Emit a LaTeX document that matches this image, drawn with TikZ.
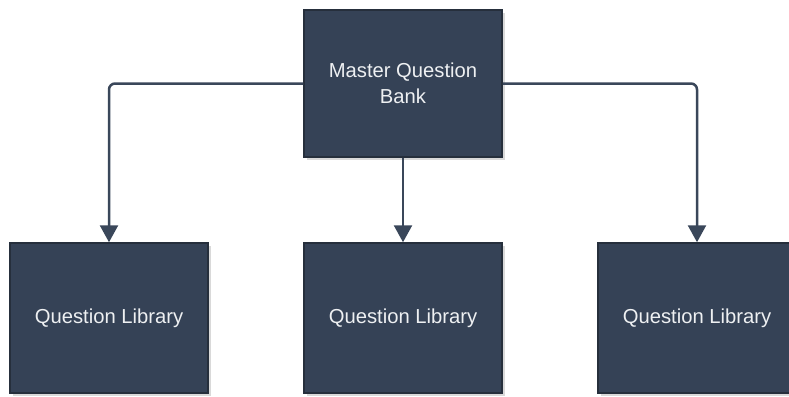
\documentclass[tikz,border=0pt]{standalone}
\usepackage{fontspec}
\setmainfont{Liberation Sans}
\usetikzlibrary{arrows.meta,shadows}
\definecolor{boxfill}{HTML}{354256}
\definecolor{boxline}{HTML}{262F3C}
\definecolor{linkcol}{HTML}{3A475A}
\definecolor{textcol}{HTML}{EEF0F2}
\begin{document}
\begin{tikzpicture}[x=1bp,y=-1bp,
  qbox/.style={draw=boxline,line width=1.5bp,fill=boxfill,
    minimum width=198bp,minimum height=150bp,inner sep=0pt,
    text=textcol,align=center,font=\fontsize{20.3}{26}\selectfont,
    drop shadow={shadow xshift=3bp,shadow yshift=-3bp,opacity=0.3}},
  link/.style={draw=linkcol,line width=2.5bp,rounded corners=6bp,
    -{Triangle[width=18bp,length=17bp]}}]
  \useasboundingbox (0,0) rectangle (789,396);

  \node[qbox,minimum height=147bp] (master) at (403,83.5) {Master Question\\Bank};
  \node[qbox] (lib1) at (109,318) {Question Library};
  \node[qbox] (lib2) at (403,318) {Question Library};
  \node[qbox] (lib3) at (697,318) {Question Library};

  \draw[link] (master.west) -| (lib1.north);
  \draw[link] (master.south) -- (lib2.north);
  \draw[link] (master.east) -| (lib3.north);
\end{tikzpicture}
\end{document}
